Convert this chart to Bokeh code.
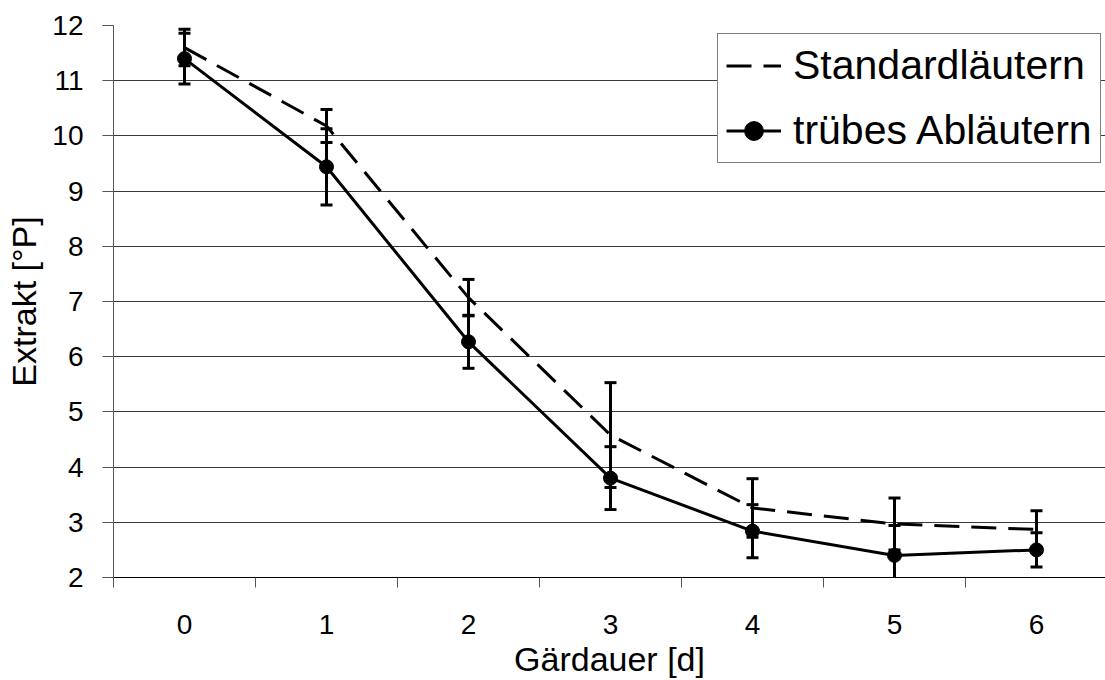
from bokeh.plotting import figure
from bokeh.models import ColumnDataSource, Whisker, TeeHead, FixedTicker, Range1d, Legend
from bokeh.embed import file_html
from bokeh.resources import INLINE

# ---- data ----
days = [0, 1, 2, 3, 4, 5, 6]
day_labels = ["0", "1", "2", "3", "4", "5", "6"]
std_mean = [11.60, 10.18, 7.07, 4.58, 3.26, 2.97, 2.87]
std_err = [0.33, 0.30, 0.33, 0.95, 0.53, 0.47, 0.34]
trueb_mean = [11.40, 9.44, 6.27, 3.80, 2.84, 2.40, 2.50]
trueb_err = [0.46, 0.69, 0.48, 0.57, 0.48, 0.54, 0.31]
y_ticks = [2, 3, 4, 5, 6, 7, 8, 9, 10, 11, 12]

FONT = "Liberation Sans"

std_src = ColumnDataSource(dict(
    x=days, y=std_mean,
    upper=[m + e for m, e in zip(std_mean, std_err)],
    lower=[m - e for m, e in zip(std_mean, std_err)],
))
tr_src = ColumnDataSource(dict(
    x=days, y=trueb_mean,
    upper=[m + e for m, e in zip(trueb_mean, trueb_err)],
    lower=[m - e for m, e in zip(trueb_mean, trueb_err)],
))

p = figure(width=1105, height=680, output_backend="svg", toolbar_location=None,
           x_range=Range1d(-0.5, 6.486), y_range=Range1d(2, 12),
           min_border_left=113, min_border_right=0, min_border_top=25, min_border_bottom=102)
p.outline_line_color = None
p.background_fill_color = "white"
p.border_fill_color = "white"

# grid
p.xgrid.grid_line_color = None
p.ygrid.grid_line_color = "#3a3a3a"
p.ygrid.grid_line_width = 1

# x axis: labels at integers, tick marks between categories
p.xaxis.ticker = FixedTicker(ticks=days, minor_ticks=[d - 0.5 for d in days] + [days[-1] + 0.5])
p.xaxis.major_label_overrides = {d: l for d, l in zip(days, day_labels)}
p.xaxis.major_tick_out = 0
p.xaxis.major_tick_in = 0
p.xaxis.minor_tick_out = 10
p.xaxis.minor_tick_in = 0
p.xaxis.minor_tick_line_color = "#555555"
p.xaxis.axis_line_color = "black"
p.xaxis.major_label_standoff = 27
p.xaxis.axis_label = "Gärdauer [d]"
p.xaxis.axis_label_standoff = 3

# y axis
p.yaxis.ticker = FixedTicker(ticks=y_ticks)
p.yaxis.major_tick_out = 11
p.yaxis.major_tick_in = 0
p.yaxis.minor_tick_line_color = None
p.yaxis.axis_line_color = "#555555"
p.yaxis.major_tick_line_color = "#555555"
p.yaxis.major_label_standoff = 19
p.yaxis.axis_label = "Extrakt [°P]"
p.yaxis.axis_label_standoff = 6

for ax in (p.xaxis, p.yaxis):
    ax.major_label_text_font = FONT
    ax.major_label_text_font_size = "28px"
    ax.major_label_text_color = "black"
    ax.axis_label_text_font = FONT
    ax.axis_label_text_font_size = "34px"
    ax.axis_label_text_font_style = "normal"
    ax.axis_label_text_color = "black"

# error bars
for src in (std_src, tr_src):
    w = Whisker(source=src, base="x", upper="upper", lower="lower", dimension="height",
                line_color="black", line_width=3,
                upper_head=TeeHead(size=12, line_color="black", line_width=3),
                lower_head=TeeHead(size=12, line_color="black", line_width=3))
    p.add_layout(w)

# series
l1 = p.line("x", "y", source=std_src, line_color="black", line_width=3, line_dash="25 12")
l2 = p.line("x", "y", source=tr_src, line_color="black", line_width=3)
s2 = p.scatter("x", "y", source=tr_src, size=14, marker="circle", fill_color="black", line_color="black")

legend = Legend(items=[("Standardläutern", [l1]), ("trübes Abläutern", [l2, s2])],
                location=(604, 414))
legend.label_text_font = FONT
legend.label_text_font_size = "41px"
legend.label_text_color = "black"
legend.glyph_width = 55
legend.glyph_height = 47
legend.label_standoff = 12
legend.padding = 8
legend.spacing = 18
legend.margin = 0
legend.border_line_color = "black"
legend.border_line_width = 1
legend.background_fill_color = "white"
legend.background_fill_alpha = 1
p.add_layout(legend)

open("out.html", "w").write(file_html(p, INLINE))
